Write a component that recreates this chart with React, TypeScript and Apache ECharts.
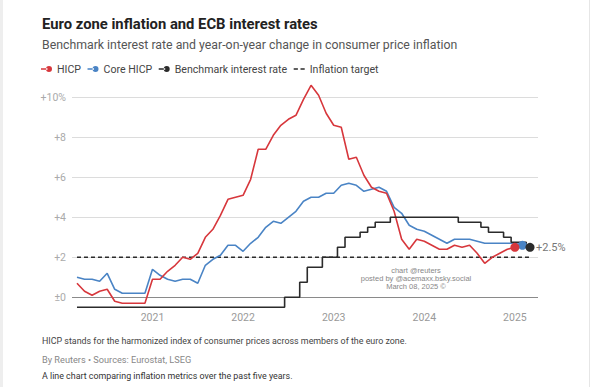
import React, { useEffect, useRef } from 'react';
import * as echarts from 'echarts';

const months = [
  '2020-03', '2020-04', '2020-05', '2020-06', '2020-07', '2020-08', '2020-09', '2020-10', '2020-11', '2020-12',
  '2021-01', '2021-02', '2021-03', '2021-04', '2021-05', '2021-06', '2021-07', '2021-08', '2021-09', '2021-10', '2021-11', '2021-12',
  '2022-01', '2022-02', '2022-03', '2022-04', '2022-05', '2022-06', '2022-07', '2022-08', '2022-09', '2022-10', '2022-11', '2022-12',
  '2023-01', '2023-02', '2023-03', '2023-04', '2023-05', '2023-06', '2023-07', '2023-08', '2023-09', '2023-10', '2023-11', '2023-12',
  '2024-01', '2024-02', '2024-03', '2024-04', '2024-05', '2024-06', '2024-07', '2024-08', '2024-09', '2024-10', '2024-11', '2024-12',
  '2025-01', '2025-02', '2025-03',
];

const yearLabels = ['2021', '2022', '2023', '2024', '2025'];
const yTickValues = [0, 2, 4, 6, 8, 10];
const yTickLabels = ['±0', '+2', '+4', '+6', '+8', '+10%'];

// HICP, Mar 2020 - Jan 2025
const hicp = [
  0.7, 0.3, 0.1, 0.3, 0.4, -0.2, -0.3, -0.3, -0.3, -0.3,
  0.9, 0.9, 1.3, 1.6, 2.0, 1.9, 2.2, 3.0, 3.4, 4.1, 4.9, 5.0,
  5.1, 5.9, 7.4, 7.4, 8.1, 8.6, 8.9, 9.1, 9.9, 10.6, 10.1, 9.2,
  8.6, 8.5, 6.9, 7.0, 6.1, 5.5, 5.3, 5.2, 4.3, 2.9, 2.4, 2.9,
  2.8, 2.6, 2.4, 2.4, 2.6, 2.5, 2.6, 2.2, 1.7, 2.0, 2.2, 2.4,
  2.5,
];

// Core HICP, Mar 2020 - Feb 2025
const coreHicp = [
  1.0, 0.9, 0.9, 0.8, 1.2, 0.4, 0.2, 0.2, 0.2, 0.2,
  1.4, 1.1, 0.9, 0.8, 0.9, 0.9, 0.7, 1.6, 1.9, 2.1, 2.6, 2.6,
  2.3, 2.7, 3.0, 3.5, 3.8, 3.7, 4.0, 4.3, 4.8, 5.0, 5.0, 5.2,
  5.2, 5.6, 5.7, 5.6, 5.3, 5.4, 5.5, 5.3, 4.5, 4.2, 3.6, 3.4,
  3.3, 3.1, 2.9, 2.7, 2.9, 2.9, 2.9, 2.8, 2.7, 2.7, 2.7, 2.7,
  2.7, 2.6,
];

// ECB deposit rate, Mar 2020 - Mar 2025
const benchmarkRate = [
  -0.5, -0.5, -0.5, -0.5, -0.5, -0.5, -0.5, -0.5, -0.5, -0.5,
  -0.5, -0.5, -0.5, -0.5, -0.5, -0.5, -0.5, -0.5, -0.5, -0.5, -0.5, -0.5,
  -0.5, -0.5, -0.5, -0.5, -0.5, -0.5, 0, 0, 0.75, 1.5, 1.5, 2.0,
  2.0, 2.5, 3.0, 3.0, 3.25, 3.5, 3.75, 3.75, 4.0, 4.0, 4.0, 4.0,
  4.0, 4.0, 4.0, 4.0, 4.0, 3.75, 3.75, 3.75, 3.5, 3.25, 3.25, 3.0,
  2.75, 2.75, 2.5,
];

const inflationTarget = 2;

const RED = '#d7373c';
const BLUE = '#4a84c5';
const BLACK = '#2b2b2b';
const FONT = 'Roboto';

const iconLineDot = 'path://M0,2.2H6.5V3.8H0Z M5,3 A3,3 0 1,0 11,3 A3,3 0 1,0 5,3Z';
const iconDash = 'path://M0,0H4V1.6H0Z M6.5,0H10.5V1.6H6.5Z';

export default function App() {
  const ref = useRef<HTMLDivElement>(null);

  useEffect(() => {
    const chart = echarts.init(ref.current as HTMLDivElement, null, { renderer: 'svg' });

    const lineSeries = (name: string, values: number[], color: string, extra: any = {}) => ({
      name,
      type: 'line',
      data: values.map((v, i) => [i, v]),
      lineStyle: { color, width: 1.6 },
      itemStyle: { color },
      symbol: 'circle',
      showSymbol: true,
      showAllSymbol: true,
      symbolSize: (_v: any, p: any) => (p.dataIndex === values.length - 1 ? 9 : 0),
      silent: true,
      ...extra,
    });

    const yearTickPositions = yearLabels.map((y) => months.indexOf(y + '-01'));

    const option: any = {
      animation: false,
      backgroundColor: '#ffffff',
      textStyle: { fontFamily: FONT },
      grid: { left: 72, right: 57, top: 81.3, bottom: 49.7, containLabel: false },
      legend: {
        left: 36,
        top: 58.5,
        itemWidth: 11,
        itemHeight: 6,
        itemGap: 6.5,
        selectedMode: false,
        textStyle: { color: '#444', fontSize: 10.6, fontFamily: FONT },
        data: [
          { name: 'HICP', icon: iconLineDot },
          { name: 'Core HICP', icon: iconLineDot },
          { name: 'Benchmark interest rate', icon: iconLineDot },
          { name: 'Inflation target', icon: iconDash },
        ],
      },
      xAxis: {
        type: 'value',
        min: -0.66,
        max: 61.06,
        axisLine: { show: false, onZero: false },
        axisTick: { show: false },
        splitLine: { show: false },
        axisLabel: {
          customValues: yearTickPositions,
          margin: -25,
          color: '#999',
          fontSize: 10.5,
          fontFamily: FONT,
          formatter: (v: number) => {
            const idx = yearTickPositions.indexOf(Math.round(v));
            return idx >= 0 ? yearLabels[idx] : '';
          },
        },
      },
      yAxis: {
        type: 'value',
        min: -2,
        max: 10.8,
        interval: 2,
        axisLine: { show: false, onZero: false },
        axisTick: { show: false },
        axisLabel: {
          margin: 6,
          color: '#aaa',
          fontSize: 10.5,
          fontFamily: FONT,
          showMaxLabel: false,
          formatter: (v: number) => {
            const idx = yTickValues.indexOf(Math.round(v * 100) / 100);
            return idx >= 0 ? yTickLabels[idx] : '';
          },
        },
        splitLine: {
          show: true,
          lineStyle: {
            width: 1,
            color: ['rgba(0,0,0,0)', '#8a8a8a', '#dcdcdc', '#dcdcdc', '#dcdcdc', '#dcdcdc', '#dcdcdc', 'rgba(0,0,0,0)'],
          },
        },
      },
      series: [
        {
          name: 'Inflation target',
          type: 'line',
          data: [[0, inflationTarget], [months.length - 1, inflationTarget]],
          lineStyle: { color: BLACK, width: 1.5, type: [4, 3] },
          itemStyle: { color: BLACK },
          symbol: 'none',
          silent: true,
        },
        lineSeries('Core HICP', coreHicp, BLUE),
        lineSeries('HICP', hicp, RED),
        lineSeries('Benchmark interest rate', benchmarkRate, BLACK, {
          step: 'middle',
          endLabel: {
            show: true,
            formatter: '+2.5%',
            color: '#777',
            fontSize: 11,
            fontFamily: FONT,
            distance: 6,
          },
        }),
      ],
      graphic: [
        { type: 'rect', shape: { x: 0, y: 0, width: 3, height: 387 }, style: { fill: '#eeeeee' }, silent: true },
        { type: 'line', shape: { x1: 589.5, y1: 0, x2: 589.5, y2: 387 }, style: { stroke: '#e6e6e6', lineWidth: 1 }, silent: true },
        {
          type: 'text', x: 42, y: 24,
          style: { text: 'Euro zone inflation and ECB interest rates', fill: '#222', font: `bold 14.8px ${FONT}`, textVerticalAlign: 'middle' },
        },
        {
          type: 'text', x: 42, y: 44.5,
          style: { text: 'Benchmark interest rate and year-on-year change in consumer price inflation', fill: '#555', font: `12.3px ${FONT}`, textVerticalAlign: 'middle' },
        },
        {
          type: 'text', x: 42, y: 341,
          style: { text: 'HICP stands for the harmonized index of consumer prices across members of the euro zone.', fill: '#444', font: `8.9px ${FONT}`, textVerticalAlign: 'middle' },
        },
        {
          type: 'text', x: 42, y: 359,
          style: { text: 'By Reuters • Sources: Eurostat, LSEG', fill: '#888', font: `9.2px ${FONT}`, textVerticalAlign: 'middle' },
        },
        {
          type: 'text', x: 42, y: 376,
          style: { text: 'A line chart comparing inflation metrics over the past five years.', fill: '#333', font: `8.9px ${FONT}`, textVerticalAlign: 'middle' },
        },
        {
          type: 'text', x: 416, y: 270.4,
          style: { text: 'chart @reuters', fill: '#888', font: '7.5px "Liberation Sans"', textAlign: 'center', textVerticalAlign: 'middle' },
        },
        {
          type: 'text', x: 416, y: 278.2,
          style: { text: 'posted by @acemaxx.bsky.social', fill: '#888', font: '7.5px "Liberation Sans"', textAlign: 'center', textVerticalAlign: 'middle' },
        },
        {
          type: 'text', x: 416, y: 286,
          style: { text: 'March 08, 2025 ©', fill: '#888', font: '7.5px "Liberation Sans"', textAlign: 'center', textVerticalAlign: 'middle' },
        },
      ],
    };

    chart.setOption(option);
    return () => chart.dispose();
  }, []);

  return (
    <div
      ref={ref}
      style={{ position: 'fixed', left: 0, top: 0, width: 595, height: 387, background: '#fff' }}
    />
  );
}
